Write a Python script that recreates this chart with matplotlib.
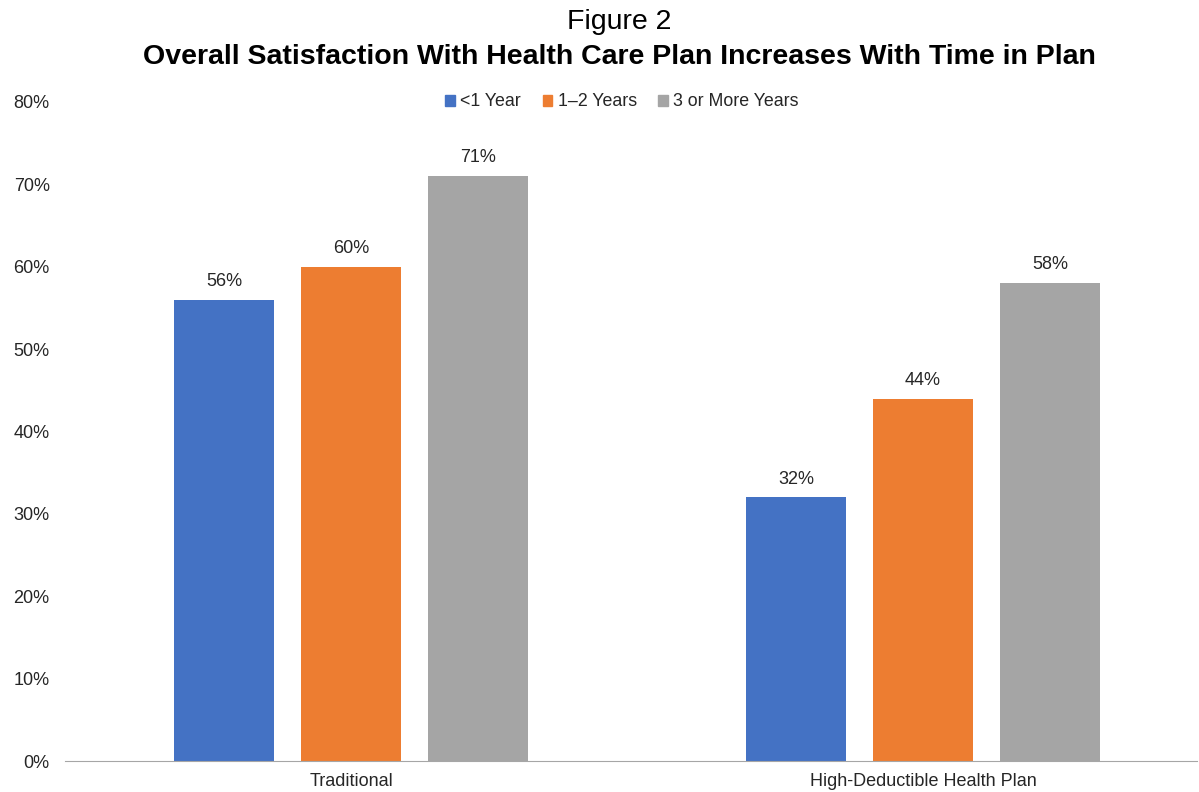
import numpy as np
import matplotlib.pyplot as plt
from matplotlib.patches import Patch

plt.rcParams['font.family'] = ['Liberation Sans', 'DejaVu Sans']

groups = ["Traditional", "High-Deductible Health Plan"]
series = ["<1 Year", "1\u20132 Years", "3 or More Years"]
values = [
    [56, 32],
    [60, 44],
    [71, 58],
]
colors = ["#4472C4", "#ED7D31", "#A5A5A5"]

fig = plt.figure(figsize=(11.99, 7.92), dpi=100)
ax = fig.add_axes([65/1199, 31/792, 1132/1199, 659/792])

x = np.arange(len(groups))
w = 0.175
step = 0.222
for i, (name, vals) in enumerate(zip(series, values)):
    pos = x + (i - 1) * step
    ax.bar(pos, vals, width=w, color=colors[i], label=name)
    for p, v in zip(pos, vals):
        ax.text(p, v + 1.2, f"{v}%", ha="center", va="bottom", fontsize=13, color="#262626")

ax.set_xlim(-0.5, 1.479)
ax.set_ylim(0, 80)
ax.set_yticks(np.arange(0, 81, 10))
ax.set_yticklabels([f"{t}%" for t in range(0, 81, 10)], fontsize=13, color="#262626")
ax.set_xticks(x)
ax.set_xticklabels(groups, fontsize=13, color="#262626")
ax.tick_params(axis="both", length=0)
ax.tick_params(axis="y", pad=11)
ax.tick_params(axis="x", pad=9)
for s in ["top", "right", "left"]:
    ax.spines[s].set_visible(False)
ax.spines["bottom"].set_color("#a6a6a6")

handles = [Patch(color=c, label=s) for c, s in zip(colors, series)]
fig.legend(handles=handles, loc="center", bbox_to_anchor=(622/1199, 1 - 102/792), ncol=3,
           frameon=False, fontsize=12.8, handlelength=0.55, handleheight=0.55,
           handletextpad=0.3, columnspacing=1.2, labelcolor="#262626")

fig.text(619/1199, 1 - 22/792, "Figure 2", ha="center", va="center", fontsize=20.5)
fig.text(619/1199, 1 - 57/792, "Overall Satisfaction With Health Care Plan Increases With Time in Plan",
         ha="center", va="center", fontsize=20.5, fontweight="bold")

fig.savefig("out.png", dpi=100)
